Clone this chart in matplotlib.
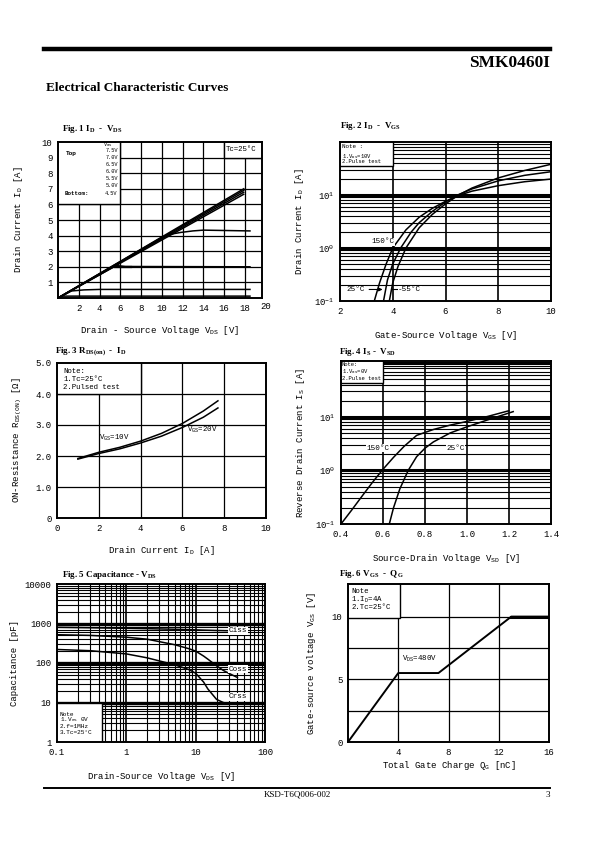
import matplotlib
matplotlib.use('Agg')
import matplotlib.pyplot as plt
from matplotlib.patches import Rectangle
from matplotlib.lines import Line2D
import numpy as np

plt.rcParams['font.family'] = ['Liberation Mono', 'DejaVu Sans']
plt.rcParams['mathtext.fontset'] = 'custom'
plt.rcParams['mathtext.rm'] = 'Liberation Mono'
plt.rcParams['mathtext.it'] = 'Liberation Mono'
plt.rcParams['mathtext.bf'] = 'Liberation Mono:bold'

SERIF = ['Liberation Serif', 'DejaVu Serif']

# ---------------- DATA ----------------
# Fig 1  ID - VDS
f1_vgs_labels = ['7.5V', '7.0V', '6.5V', '6.0V', '5.5V', '5.0V', '4.5V']
f1_ohmic_vds = [0, 17.9]
f1_ohmic_id_end = [7.0, 6.9, 6.78, 6.65]
f1_sat43_vds = [0, 10.0, 10.8, 11.8, 13.0, 14.0, 18.5]
f1_sat43_id = [0, 3.88, 4.08, 4.2, 4.3, 4.35, 4.3]
f1_sat20_vds = [0, 5.6, 6.5, 18.5]
f1_sat20_id = [0, 2.08, 2.02, 2.0]
f1_sat05_vds = [0, 1.3, 2.5, 4.0, 18.5]
f1_sat05_id = [0, 0.45, 0.52, 0.55, 0.55]
f1_sat01_vds = [0, 0.5, 18.5]
f1_sat01_id = [0, 0.12, 0.12]

# Fig 2  ID - VGS
f2_vgs_150 = [3.3, 3.5, 3.75, 4.0, 4.5, 5.0, 5.5, 6.0, 6.5, 7.0, 8.0, 9.0, 10.0]
f2_id_150 = [0.1, 0.22, 0.5, 1.0, 2.2, 3.8, 5.6, 7.6, 9.8, 11.8, 15.0, 17.8, 20.0]
f2_vgs_25 = [3.65, 3.8, 4.0, 4.3, 4.7, 5.0, 5.5, 6.0, 6.5, 7.0, 8.0, 9.0, 10.0]
f2_id_25 = [0.1, 0.25, 0.5, 1.0, 2.0, 3.0, 4.9, 7.4, 10.2, 13.0, 18.5, 23.5, 27.5]
f2_vgs_m55 = [3.87, 4.0, 4.2, 4.5, 5.0, 5.5, 6.0, 6.5, 7.0, 8.0, 9.0, 10.0]
f2_id_m55 = [0.1, 0.22, 0.45, 1.0, 2.4, 4.3, 6.8, 10.0, 13.5, 21.0, 29.0, 38.0]

# Fig 3  RDS(on) - ID
f3_id = [1.0, 2.0, 3.0, 4.0, 5.0, 6.0, 7.0, 7.7]
f3_r_10v = [1.92, 2.12, 2.28, 2.48, 2.73, 3.05, 3.45, 3.78]
f3_r_20v = [1.9, 2.08, 2.23, 2.42, 2.64, 2.92, 3.25, 3.55]

# Fig 4  IS - VSD
f4_vsd_150 = [0.4, 0.45, 0.5, 0.55, 0.6, 0.65, 0.7, 0.76, 0.84, 0.92, 1.0, 1.1, 1.2]
f4_is_150 = [0.1, 0.18, 0.33, 0.6, 1.05, 1.75, 2.8, 4.5, 5.8, 7.0, 8.2, 10.2, 13.0]
f4_vsd_25 = [0.63, 0.65, 0.68, 0.72, 0.76, 0.8, 0.84, 0.92, 1.0, 1.1, 1.22]
f4_is_25 = [0.1, 0.2, 0.45, 1.0, 1.8, 2.6, 3.4, 5.0, 6.5, 8.8, 12.5]

# Fig 5  Capacitance - VDS
f5_vds = [0.1, 0.3, 1.0, 2.0, 5.0, 8.0, 10.0, 13.0, 15.0, 20.0, 25.0, 30.0, 40.0]
f5_ciss = [800, 780, 755, 740, 715, 700, 690, 680, 675, 665, 660, 655, 650]
f5_coss = [520, 500, 450, 400, 290, 230, 200, 150, 125, 85, 65, 55, 43]
f5_crss = [220, 205, 170, 135, 90, 68, 55, 33, 22, 12, 10, 9.3, 9.0]

# Fig 6  VGS - QG
f6_qg = [0, 4.0, 7.2, 13.0, 16.0]
f6_vgs = [0, 5.5, 5.5, 10.0, 10.0]

# ---------------- FIGURE ----------------
W, H = 595, 842
fig = plt.figure(figsize=(5.95, 8.42), dpi=100)


def px_axes(l, t, r, b):
    return fig.add_axes([l / W, 1 - b / H, (r - l) / W, (b - t) / H])


def ftext(x, y, s, **kw):
    fig.text(x / W, 1 - y / H, s, **kw)


def fline(x0, x1, y, lw):
    fig.add_artist(Line2D([x0 / W, x1 / W], [1 - y / H, 1 - y / H], lw=lw,
                          color='k', transform=fig.transFigure))


def style(ax):
    for sp in ax.spines.values():
        sp.set_linewidth(1.4)
        sp.set_zorder(5)
    ax.tick_params(length=0, labelsize=6.5, pad=4)


def title(x, y, s):
    ftext(x, y, s, family=SERIF, weight='bold', fontsize=6.5, ha='left', va='center')


def note_box(ax, x0, x1, y0, y1):
    ax.add_patch(Rectangle((x0, y0), x1 - x0, y1 - y0, facecolor='white',
                           edgecolor='k', lw=1.0, zorder=2))


def small(ax, x, y, s, size=4.8, **kw):
    ax.text(x, y, s, fontsize=size, zorder=4, va='center', **kw)


LW = 1.1
GL = 0.9

# header / footer
fline(44, 550, 49, 3.2)
ftext(550, 63, 'SMK0460I', family=SERIF, weight='bold', fontsize=12.5, ha='right', va='center')
ftext(46, 88, 'Electrical Characteristic Curves', family=SERIF, weight='bold',
      fontsize=9.5, ha='left', va='center')
fline(44, 550, 788, 1.4)
ftext(297, 795, 'KSD-T6Q006-002', family=SERIF, fontsize=6.5, ha='center', va='center')
ftext(550, 795, '3', family=SERIF, fontsize=6.5, ha='right', va='center')

# ---------- Fig 1 ----------
ax1 = px_axes(58, 142, 262, 298)
style(ax1)
ax1.set_xlim(0, 19.66)
ax1.set_ylim(0, 10)
for v in range(2, 20, 2):
    ax1.axvline(v, color='k', lw=GL, zorder=1)
for v in range(1, 10):
    ax1.axhline(v, color='k', lw=GL, zorder=1)
note_box(ax1, -0.1, 6, 6, 10.2)
note_box(ax1, 16, 19.9, 9, 10.2)
for yend in f1_ohmic_id_end:
    ax1.plot(f1_ohmic_vds, [0, yend], color='k', lw=LW, zorder=3)
ax1.plot(f1_sat43_vds, f1_sat43_id, color='k', lw=LW, zorder=3)
ax1.plot(f1_sat20_vds, f1_sat20_id, color='k', lw=LW, zorder=3)
ax1.plot([5.5, 7.0], [1.96, 1.96], color='k', lw=1.6, zorder=3)
ax1.plot(f1_sat05_vds, f1_sat05_id, color='k', lw=LW, zorder=3)
ax1.plot(f1_sat01_vds, f1_sat01_id, color='k', lw=LW, zorder=3)
ax1.set_xticks(range(2, 20, 2))
ax1.set_yticks(range(1, 11))
ax1.text(20, -0.28, '20', fontsize=6.5, ha='center', va='top', clip_on=False)
small(ax1, 0.8, 9.25, 'Top', size=4.4, weight='bold', ha='left')
small(ax1, 4.3, 9.82, 'V$_\\mathregular{GS}$', size=3.8, ha='left')
f1_label_y = [9.45, 9.0, 8.55, 8.1, 7.65, 7.2, 6.7]
for lab, yy in zip(f1_vgs_labels, f1_label_y):
    small(ax1, 5.75, yy, lab, size=3.8, ha='right')
small(ax1, 0.6, 6.7, 'Bottom:', size=4.2, weight='bold', ha='left')
small(ax1, 16.2, 9.55, 'Tc=25\u00b0C', size=5.3, ha='left')
ax1.set_xlabel('Drain - Source Voltage V$_\\mathregular{DS}$ [V]', fontsize=6.5, labelpad=8)
ax1.set_ylabel('Drain Current I$_\\mathregular{D}$ [A]', fontsize=6.5, labelpad=12)
title(62, 129, 'Fig. 1 I$_\\mathregular{D}$  -  V$_\\mathregular{DS}$')


def log_grid(ax, lo_exp, hi_exp, axis='y', minor_lw=0.8, major_lw=2.2):
    for e in range(lo_exp, hi_exp):
        for m in range(2, 10):
            v = m * 10.0 ** e
            if axis == 'y':
                ax.axhline(v, color='k', lw=minor_lw, zorder=1)
            else:
                ax.axvline(v, color='k', lw=minor_lw, zorder=1)
        if e > lo_exp:
            if axis == 'y':
                ax.axhline(10.0 ** e, color='k', lw=major_lw, zorder=1)
            else:
                ax.axvline(10.0 ** e, color='k', lw=major_lw, zorder=1)


# ---------- Fig 2 ----------
ax2 = px_axes(340, 142, 551, 301)
style(ax2)
ax2.set_yscale('log')
ax2.set_xlim(2, 10)
ax2.set_ylim(0.1, 100)
log_grid(ax2, -1, 2)
for v in (4, 6, 8):
    ax2.axvline(v, color='k', lw=1.2, zorder=1)
note_box(ax2, 1.9, 4.0, 36, 120)
ax2.plot(f2_vgs_150, f2_id_150, color='k', lw=LW, zorder=3)
ax2.plot(f2_vgs_25, f2_id_25, color='k', lw=LW, zorder=3)
ax2.plot(f2_vgs_m55, f2_id_m55, color='k', lw=LW, zorder=3)
ax2.set_xticks([2, 4, 6, 8, 10])
ax2.set_yticks([0.1, 1, 10])
ax2.set_yticklabels(['$10^{-1}$', '$10^{0}$', '$10^{1}$'])
ax2.minorticks_off()
small(ax2, 2.08, 84, 'Note :', size=4.2, ha='left')
small(ax2, 2.08, 54, '1.V$_\\mathregular{DS}$=10V', size=4.0, ha='left')
small(ax2, 2.08, 42, '2.Pulse test', size=4.0, ha='left')
ax2.text(3.2, 1.3, '150\u00b0C', fontsize=5.5, ha='left', va='center', zorder=4,
         bbox=dict(facecolor='white', edgecolor='none', pad=0.3))
ax2.text(2.25, 0.165, '25\u00b0C', fontsize=5.5, ha='left', va='center', zorder=4,
         bbox=dict(facecolor='white', edgecolor='none', pad=0.3))
ax2.annotate('', xy=(3.72, 0.165), xytext=(3.0, 0.165), zorder=4,
             arrowprops=dict(arrowstyle='-|>', lw=0.8, color='k', mutation_scale=5))
ax2.plot([3.93, 4.15], [0.165, 0.165], color='k', lw=0.8, zorder=4)
ax2.text(4.2, 0.165, '-55\u00b0C', fontsize=5.5, ha='left', va='center', zorder=4,
         bbox=dict(facecolor='white', edgecolor='none', pad=0.3))
ax2.set_xlabel('Gate-Source Voltage V$_\\mathregular{GS}$ [V]', fontsize=6.5, labelpad=10)
ax2.set_ylabel('Drain Current I$_\\mathregular{D}$ [A]', fontsize=6.5, labelpad=6)
title(340, 126, 'Fig. 2 I$_\\mathregular{D}$  -  V$_\\mathregular{GS}$')

# ---------- Fig 3 ----------
ax3 = px_axes(57, 363, 266, 518)
style(ax3)
ax3.set_xlim(0, 10)
ax3.set_ylim(0, 5)
for v in (2, 4, 6, 8):
    ax3.axvline(v, color='k', lw=GL, zorder=1)
for v in (1, 2, 3, 4):
    ax3.axhline(v, color='k', lw=GL, zorder=1)
note_box(ax3, -0.1, 4, 4, 5.1)
ax3.plot(f3_id, f3_r_10v, color='k', lw=LW, zorder=3)
ax3.plot(f3_id, f3_r_20v, color='k', lw=LW, zorder=3)
ax3.set_xticks(range(0, 11, 2))
ax3.set_yticks([0, 1, 2, 3, 4, 5])
ax3.set_yticklabels(['0', '1.0', '2.0', '3.0', '4.0', '5.0'])
small(ax3, 0.3, 4.74, 'Note:', size=5.3, ha='left')
small(ax3, 0.3, 4.47, '1.Tc=25\u00b0C', size=5.3, ha='left')
small(ax3, 0.3, 4.22, '2.Pulsed test', size=5.3, ha='left')
small(ax3, 2.0, 2.57, 'V$_\\mathregular{GS}$=10V', size=5.3, ha='left')
small(ax3, 6.2, 2.85, 'V$_\\mathregular{GS}$=20V', size=5.3, ha='left')
ax3.set_xlabel('Drain Current I$_\\mathregular{D}$ [A]', fontsize=6.5, labelpad=8)
ax3.set_ylabel('ON-Resistance R$_\\mathregular{DS(ON)}$ [\u03a9]', fontsize=6.5, labelpad=8)
title(55, 352, 'Fig. 3 R$_\\mathregular{DS(on)}$  -  I$_\\mathregular{D}$')

# ---------- Fig 4 ----------
ax4 = px_axes(341, 361, 551, 524)
style(ax4)
ax4.set_yscale('log')
ax4.set_xlim(0.4, 1.4)
ax4.set_ylim(0.1, 110)
log_grid(ax4, -1, 3)
for v in (0.6, 0.8, 1.0, 1.2):
    ax4.axvline(v, color='k', lw=1.2, zorder=1)
note_box(ax4, 0.39, 0.598, 43, 130)
ax4.plot(f4_vsd_150, f4_is_150, color='k', lw=LW, zorder=3)
ax4.plot(f4_vsd_25, f4_is_25, color='k', lw=LW, zorder=3)
ax4.set_xticks([0.4, 0.6, 0.8, 1.0, 1.2, 1.4])
ax4.set_xticklabels(['0.4', '0.6', '0.8', '1.0', '1.2', '1.4'])
ax4.set_yticks([0.1, 1, 10])
ax4.set_yticklabels(['$10^{-1}$', '$10^{0}$', '$10^{1}$'])
ax4.minorticks_off()
small(ax4, 0.404, 94, 'Note:', size=4.0, ha='left')
small(ax4, 0.404, 69, '1.V$_\\mathregular{GS}$=0V', size=4.0, ha='left')
small(ax4, 0.404, 51, '2.Pulse test', size=4.0, ha='left')
ax4.text(0.52, 2.6, '150\u00b0C', fontsize=5.5, ha='left', va='center', zorder=4,
         bbox=dict(facecolor='white', edgecolor='none', pad=0.3))
ax4.text(0.9, 2.6, '25\u00b0C', fontsize=5.5, ha='left', va='center', zorder=4,
         bbox=dict(facecolor='white', edgecolor='none', pad=0.3))
ax4.set_xlabel('Source-Drain Voltage V$_\\mathregular{SD}$ [V]', fontsize=6.5, labelpad=10)
ax4.set_ylabel('Reverse Drain Current I$_\\mathregular{S}$ [A]', fontsize=6.5, labelpad=6)
title(339, 352, 'Fig. 4 I$_\\mathregular{S}$ -  V$_\\mathregular{SD}$')

# ---------- Fig 5 ----------
ax5 = px_axes(57, 584, 265, 742)
style(ax5)
ax5.set_xscale('log')
ax5.set_yscale('log')
ax5.set_xlim(0.1, 100)
ax5.set_ylim(1, 10000)
log_grid(ax5, 0, 4, 'y', minor_lw=0.8, major_lw=2.4)
log_grid(ax5, -1, 2, 'x', minor_lw=0.8, major_lw=1.2)
note_box(ax5, 0.09, 0.45, 0.9, 10)
ax5.plot(f5_vds, f5_ciss, color='k', lw=LW, zorder=3)
ax5.plot(f5_vds, f5_coss, color='k', lw=LW, zorder=3)
ax5.plot(f5_vds, f5_crss, color='k', lw=LW, zorder=3)
ax5.set_xticks([0.1, 1, 10, 100])
ax5.set_xticklabels(['0.1', '1', '10', '100'])
ax5.set_yticks([1, 10, 100, 1000, 10000])
ax5.set_yticklabels(['1', '10', '100', '1000', '10000'])
ax5.minorticks_off()
for lab, yy in (('Ciss', 660), ('Coss', 70), ('Crss', 14)):
    ax5.text(30, yy, lab, fontsize=5.5, ha='left', va='center', zorder=4,
             bbox=dict(facecolor='white', edgecolor='none', pad=0.3))
small(ax5, 0.11, 4.9, 'Note', size=4.4, ha='left')
small(ax5, 0.11, 3.6, '1.V$_\\mathregular{GS}$ 0V', size=4.4, ha='left')
small(ax5, 0.11, 2.5, '2.f=1MHz', size=4.4, ha='left')
small(ax5, 0.11, 1.7, '3.Tc=25\u00b0C', size=4.4, ha='left')
ax5.set_xlabel('Drain-Source Voltage V$_\\mathregular{DS}$ [V]', fontsize=6.5, labelpad=10)
ax5.set_ylabel('Capacitance [pF]', fontsize=6.5, labelpad=4)
title(62, 575, 'Fig. 5 Capacitance - V$_\\mathregular{DS}$')

# ---------- Fig 6 ----------
ax6 = px_axes(348, 584, 549, 742)
style(ax6)
ax6.set_xlim(0, 16)
ax6.set_ylim(0, 12.6)
for v in (4, 8, 12):
    ax6.axvline(v, color='k', lw=GL, zorder=1)
for v in (2.5, 5, 7.5, 10):
    ax6.axhline(v, color='k', lw=GL, zorder=1)
note_box(ax6, -0.1, 4.1, 9.85, 12.8)
ax6.plot(f6_qg, f6_vgs, color='k', lw=1.4, zorder=3)
ax6.plot(f6_qg[-2:], f6_vgs[-2:], color='k', lw=2.2, zorder=3)
ax6.set_xticks([4, 8, 12, 16])
ax6.set_yticks([0, 5, 10])
small(ax6, 0.25, 12.0, 'Note', size=5.3, ha='left')
small(ax6, 0.25, 11.35, '1.I$_\\mathregular{D}$=4A', size=5.3, ha='left')
small(ax6, 0.25, 10.75, '2.Tc=25\u00b0C', size=5.3, ha='left')
small(ax6, 4.3, 6.6, 'V$_\\mathregular{DS}$=480V', size=5.3, ha='left')
ax6.set_xlabel('Total Gate Charge Q$_\\mathregular{G}$ [nC]', fontsize=6.5, labelpad=2)
ax6.set_ylabel('Gate-source voltage V$_\\mathregular{GS}$ [V]', fontsize=6.5, labelpad=10)
title(339, 574, 'Fig. 6 V$_\\mathregular{GS}$  -  Q$_\\mathregular{G}$')

fig.savefig('out.png', dpi=100)
